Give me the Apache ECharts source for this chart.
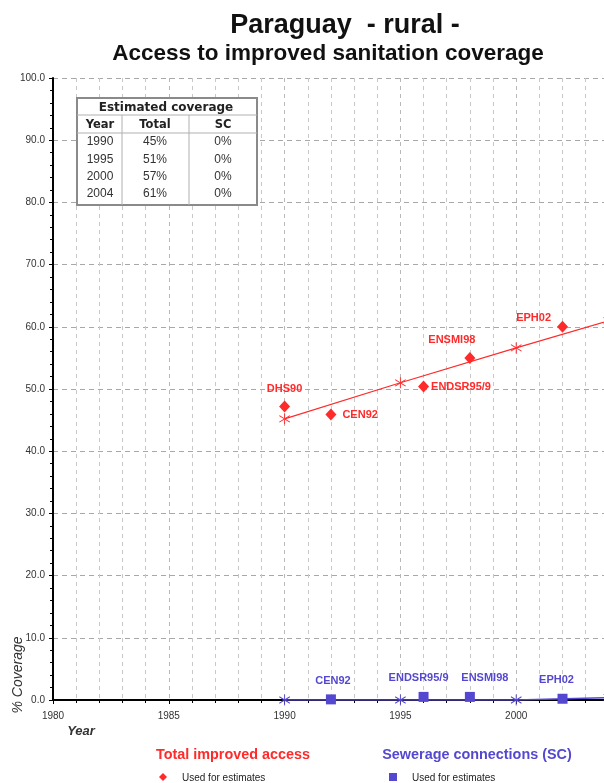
<!DOCTYPE html>
<html>
<head>
<meta charset="utf-8">
<script src="https://cdn.jsdelivr.net/npm/echarts@6/dist/echarts.min.js"></script>
<style>
  html, body { margin: 0; padding: 0; background: #fff; }
  #main { width: 604px; height: 783px; }
</style>
</head>
<body>
<div id="main"></div>
<script>
// trend lines (estimates)
const trendYears = [1990, 1995, 2000, 2004]
const totalTrend = [45.2, 51.0, 56.6, 61.0]
const scTrend = [0, 0, 0, 0.4]
// survey points
const surveyNames = ['DHS90', 'CEN92', 'ENDSR95/9', 'ENSMI98', 'EPH02']
const surveyYears = [1990, 1992, 1996, 1998, 2002]
const totalSurvey = [47.2, 45.9, 50.4, 55.0, 60.0]
const scNames = ['CEN92', 'ENDSR95/9', 'ENSMI98', 'EPH02']
const scYears = [1992, 1996, 1998, 2002]
const scSurvey = [0.1, 0.5, 0.5, 0.2]
// table
const tableTitle = 'Estimated coverage'
const tableHead = ['Year', 'Total', 'SC']
const tableRows = [
    ['1990', '45%', '0%'],
    ['1995', '51%', '0%'],
    ['2000', '57%', '0%'],
    ['2004', '61%', '0%']
]

const RED = '#ff2a2a'
const BLUE = '#5548d0'
const FONT = '"Liberation Sans", Arial, sans-serif'
const WIDE = '"DejaVu Sans", sans-serif'
const STAR = 'path://M4.6,0H5.4V10H4.6Z M0.3,2.4L0.7,1.7L9.7,7.6L9.3,8.3Z M0.3,7.6L0.7,8.3L9.7,2.4L9.3,1.7Z'

// label placement per survey point
const redLabelPos = [
    { position: 'top', distance: 6 },
    { position: 'right', distance: 6 },
    { position: 'right', distance: 2 },
    { position: 'top', distance: 6, offset: [-18, 0] },
    { position: 'left', distance: 6, offset: [0, -9] }
]
const blueLabelOffset = [2, -5, 15, -6]

function pairs(xs, ys) {
    return xs.map((x, i) => [x, ys[i]])
}

// table graphics
const tx = 77, ty = 98, tw = 180, th = 107
const colX = [tx, 122, 189, tx + tw]
const rowY = [ty, 115, 133]
const table = []
table.push({ type: 'rect', shape: { x: tx, y: ty, width: tw, height: th },
    style: { fill: '#fff', stroke: '#8a8a8a', lineWidth: 2 }, z: 100 })
table.push({ type: 'line', shape: { x1: tx, y1: rowY[1], x2: tx + tw, y2: rowY[1] },
    style: { stroke: '#b0b0b0', lineWidth: 1 }, z: 101 })
table.push({ type: 'line', shape: { x1: tx, y1: rowY[2], x2: tx + tw, y2: rowY[2] },
    style: { stroke: '#b0b0b0', lineWidth: 1 }, z: 101 })
for (let c = 1; c < 3; c++) {
    table.push({ type: 'line', shape: { x1: colX[c], y1: rowY[1], x2: colX[c], y2: ty + th },
        style: { stroke: '#b0b0b0', lineWidth: 1 }, z: 101 })
}
table.push({ type: 'text', x: tx + tw / 2 - 1, y: (rowY[0] + rowY[1]) / 2 + 1, z: 102,
    style: { text: tableTitle, font: 'bold 12px ' + WIDE, fill: '#222', align: 'center', verticalAlign: 'middle' } })
const colCenter = [100, 155, 223]
tableHead.forEach((h, c) => {
    table.push({ type: 'text', x: colCenter[c], y: (rowY[1] + rowY[2]) / 2 + 1, z: 102,
        style: { text: h, font: 'bold 11.5px ' + WIDE, fill: '#222', align: 'center', verticalAlign: 'middle' } })
})
tableRows.forEach((r, i) => {
    r.forEach((v, c) => {
        table.push({ type: 'text', x: colCenter[c], y: 142 + i * 17.3, z: 102,
            style: { text: v, font: '12px ' + FONT, fill: '#333', align: 'center', verticalAlign: 'middle' } })
    })
})

const chart = echarts.init(document.getElementById('main'))
chart.setOption({
    backgroundColor: '#fff',
    animation: false,
    grid: { left: 53, top: 78, width: 579, height: 622, containLabel: false, outerBoundsMode: 'none' },
    xAxis: {
        type: 'value', min: 1980, max: 2005, interval: 5,
        axisLine: { lineStyle: { color: '#000', width: 2 } },
        axisTick: { length: 4, lineStyle: { color: '#000' } },
        minorTick: { show: true, splitNumber: 5, length: 3, lineStyle: { color: '#000' } },
        axisLabel: { color: '#333', fontFamily: FONT, fontSize: 10, margin: 11,
            formatter: v => v > 2000 ? '' : String(v) },
        splitLine: { show: true, lineStyle: { color: '#b8b8b8', type: [4, 4], width: 1 } },
        minorSplitLine: { show: true, lineStyle: { color: '#c8c8c8', type: [4, 4], width: 1 } }
    },
    yAxis: {
        type: 'value', min: 0, max: 100, interval: 10,
        axisLine: { show: true, lineStyle: { color: '#000', width: 2 } },
        axisTick: { show: true, length: 4, lineStyle: { color: '#000' } },
        minorTick: { show: true, splitNumber: 5, length: 3, lineStyle: { color: '#000' } },
        axisLabel: { color: '#333', fontFamily: FONT, fontSize: 10, margin: 8,
            formatter: v => v.toFixed(1) },
        splitLine: { show: true, lineStyle: { color: '#a8a8a8', type: [5, 4], width: 1 } }
    },
    series: [
        {
            type: 'line', data: pairs(trendYears, totalTrend), z: 3,
            symbol: STAR, symbolSize: 11, showAllSymbol: true,
            lineStyle: { color: RED, width: 1.2 }, itemStyle: { color: RED, opacity: 1 }
        },
        {
            type: 'scatter', z: 4,
            data: surveyYears.map((x, i) => ({
                value: [x, totalSurvey[i]], name: surveyNames[i],
                label: redLabelPos[i]
            })),
            symbol: 'diamond', symbolSize: [11, 12],
            itemStyle: { color: RED, opacity: 1 },
            label: { show: true, formatter: p => p.name, color: RED,
                fontFamily: FONT, fontSize: 11, fontWeight: 'bold' }
        },
        {
            type: 'line', data: pairs(trendYears, scTrend), z: 3,
            symbol: STAR, symbolSize: 11, showAllSymbol: true,
            lineStyle: { color: BLUE, width: 1.5 }, itemStyle: { color: BLUE, opacity: 1 }
        },
        {
            type: 'scatter', z: 4,
            data: scYears.map((x, i) => ({
                value: [x, scSurvey[i]], name: scNames[i],
                label: { offset: [blueLabelOffset[i], 0] }
            })),
            symbol: 'rect', symbolSize: 10,
            itemStyle: { color: BLUE, opacity: 1 },
            label: { show: true, position: 'top', distance: 8, formatter: p => p.name, color: BLUE,
                fontFamily: FONT, fontSize: 11, fontWeight: 'bold' }
        }
    ],
    graphic: table.concat([
        { type: 'text', x: 345, y: 26,
          style: { text: 'Paraguay  - rural -', font: 'bold 27px ' + FONT, fill: '#111', align: 'center', verticalAlign: 'middle' } },
        { type: 'text', x: 328, y: 54,
          style: { text: 'Access to improved sanitation coverage', font: 'bold 22.5px ' + FONT, fill: '#111', align: 'center', verticalAlign: 'middle' } },
        { type: 'text', x: 18, y: 675, rotation: Math.PI / 2,
          style: { text: '% Coverage', font: 'italic 14px ' + FONT, fill: '#333', align: 'center', verticalAlign: 'middle' } },
        { type: 'text', x: 81, y: 731,
          style: { text: 'Year', font: 'italic bold 13px ' + FONT, fill: '#333', align: 'center', verticalAlign: 'middle' } },
        { type: 'text', x: 233, y: 755,
          style: { text: 'Total improved access', font: 'bold 14.4px ' + FONT, fill: RED, align: 'center', verticalAlign: 'middle' } },
        { type: 'text', x: 477, y: 755,
          style: { text: 'Sewerage connections (SC)', font: 'bold 14.4px ' + FONT, fill: BLUE, align: 'center', verticalAlign: 'middle' } },
        { type: 'polygon', shape: { points: [[163, 773], [167, 777], [163, 781], [159, 777]] }, style: { fill: RED } },
        { type: 'text', x: 182, y: 778,
          style: { text: 'Used for estimates', font: '10px ' + FONT, fill: '#222', verticalAlign: 'middle' } },
        { type: 'rect', shape: { x: 389, y: 773, width: 8, height: 8 }, style: { fill: BLUE } },
        { type: 'text', x: 412, y: 778,
          style: { text: 'Used for estimates', font: '10px ' + FONT, fill: '#222', verticalAlign: 'middle' } }
    ])
})
</script>
</body>
</html>
